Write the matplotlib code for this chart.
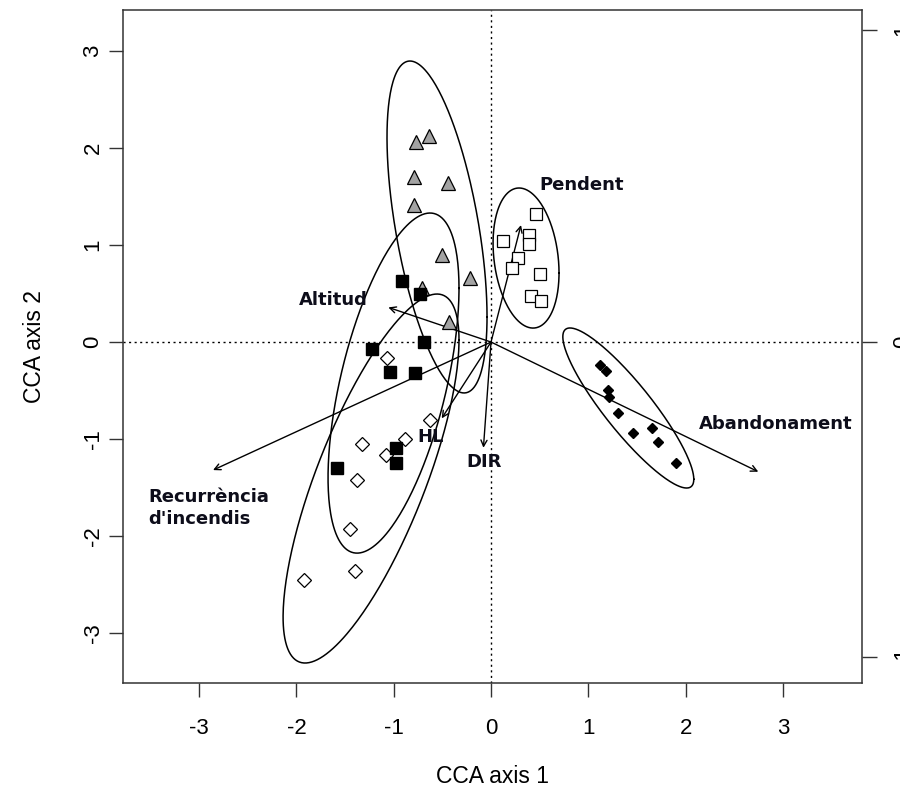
import numpy as np
import matplotlib
matplotlib.use("Agg")
import matplotlib.pyplot as plt

# --- site scores (CCA axis 1, CCA axis 2) per group ---
tri_x = [-0.774, -0.637, -0.791, -0.439, -0.791, -0.507, -0.216, -0.712, -0.432]
tri_y = [2.065, 2.124, 1.698, 1.636, 1.412, 0.897, 0.657, 0.554, 0.209]

bsq_x = [-0.918, -0.730, -0.689, -1.220, -1.038, -0.781, -0.979, -0.979, -1.586]
bsq_y = [0.629, 0.495, 0.000, -0.072, -0.306, -0.323, -1.096, -1.244, -1.302]

wdia_x = [-1.072, -0.627, -0.884, -1.326, -1.079, -1.380, -1.449, -1.398, -1.919]
wdia_y = [-0.168, -0.804, -1.003, -1.047, -1.165, -1.423, -1.928, -2.361, -2.454]

wsq_x = [0.459, 0.120, 0.394, 0.394, 0.274, 0.213, 0.504, 0.408, 0.514]
wsq_y = [1.316, 1.044, 1.103, 1.007, 0.863, 0.766, 0.701, 0.477, 0.426]

bdia_x = [1.120, 1.179, 1.199, 1.216, 1.302, 1.456, 1.658, 1.713, 1.898]
bdia_y = [-0.237, -0.296, -0.495, -0.570, -0.735, -0.935, -0.883, -1.028, -1.244]

# --- group ellipses: centre, half-width, half-height, x-offset of top point ---
ell_cx = [-0.555, -1.002, -1.233, 0.360, 1.411]
ell_cy = [1.186, -0.423, -1.407, 0.866, -0.680]
ell_w = [0.514, 0.673, 0.904, 0.339, 0.673]
ell_h = [1.711, 1.753, 1.902, 0.722, 0.825]
ell_dx = [-0.278, 0.375, 0.678, -0.072, -0.599]

# --- environmental vectors (biplot arrows) ---
env_names = ["Altitud", "Recurrència\nd'incendis", "Abandonament", "Pendent", "DIR", "HL"]
env_x = [-1.055, -2.857, 2.747, 0.308, -0.078, -0.507]
env_y = [0.357, -1.320, -1.337, 1.206, -1.090, -0.787]
lab_x = [-1.624, -3.525, 2.929, 0.935, -0.072, -0.617]
lab_y = [0.433, -1.711, -0.845, 1.619, -1.237, -0.979]
lab_ha = ["center", "left", "center", "center", "center", "center"]

x_ticks = [-3, -2, -1, 0, 1, 2, 3]
y_ticks = [-3, -2, -1, 0, 1, 2, 3]
right_ticks = [-3.25, 0.0, 3.22]
right_labels = ["-1", "0", "1"]

plt.rcParams["font.family"] = ["Liberation Sans", "DejaVu Sans"]

fig = plt.figure(figsize=(9.0, 7.93), dpi=100)
ax = fig.add_axes([0.1367, 0.1387, 0.9578 - 0.1367, 0.9874 - 0.1387])
ax.set_xlim(-3.782, 3.813)
ax.set_ylim(-3.515, 3.423)

# dotted origin lines
ax.axhline(0, color="black", lw=1.0, ls=(0, (1.5, 2.5)), zorder=1)
ax.axvline(0, color="black", lw=1.0, ls=(0, (1.5, 2.5)), zorder=1)

# ellipses
t = np.linspace(0, 2 * np.pi, 300)
for cx, cy, w, h, dx in zip(ell_cx, ell_cy, ell_w, ell_h, ell_dx):
    cov = np.array([[w * w, dx * h], [dx * h, h * h]])
    L = np.linalg.cholesky(cov)
    pts = L @ np.vstack([np.cos(t), np.sin(t)])
    ax.plot(cx + pts[0], cy + pts[1], color="black", lw=1.1, zorder=2)

# arrows
for ex, ey in zip(env_x, env_y):
    ax.annotate("", xy=(ex, ey), xytext=(0, 0),
                arrowprops=dict(arrowstyle="->", lw=1.0, color="black",
                                shrinkA=0, shrinkB=0, mutation_scale=11),
                zorder=3)

# points
ax.plot(tri_x, tri_y, "^", ms=10, mfc="#a3a3a3", mec="black", mew=0.9, ls="none", zorder=4)
ax.plot(bsq_x, bsq_y, "s", ms=8, mfc="black", mec="black", ls="none", zorder=5)
ax.plot(wdia_x, wdia_y, "D", ms=7, mfc="white", mec="black", mew=0.9, ls="none", zorder=4)
ax.plot(wsq_x, wsq_y, "s", ms=8, mfc="white", mec="black", mew=0.9, ls="none", zorder=4)
ax.plot(bdia_x, bdia_y, "D", ms=5.5, mfc="black", mec="black", ls="none", zorder=4)

# vector labels
for name, lx, ly, ha in zip(env_names, lab_x, lab_y, lab_ha):
    ax.text(lx, ly, name, ha=ha, va="center", fontsize=13, fontweight="bold",
            family="DejaVu Sans", linespacing=1.3, color="#0d0d1a", zorder=6)

# axes styling
for s in ax.spines.values():
    s.set_linewidth(1.1)
    s.set_color("#333333")
ax.set_xticks(x_ticks)
ax.set_xticklabels([str(v) for v in x_ticks], fontsize=16)
ax.set_yticks(y_ticks)
ax.set_yticklabels([str(v) for v in y_ticks], fontsize=16, rotation=90, va="center")
ax.tick_params(axis="both", direction="out", length=10, width=1.0, color="#333333")
ax.tick_params(axis="x", pad=15)
ax.tick_params(axis="y", pad=4)
ax.set_xlabel("CCA axis 1", fontsize=16.5, labelpad=19)
ax.set_ylabel("CCA axis 2", fontsize=16.5, labelpad=26)

# secondary axis on the right
ax2 = ax.twinx()
ax2.set_ylim(ax.get_ylim())
ax2.set_yticks(right_ticks)
ax2.set_yticklabels(right_labels, fontsize=16, rotation=90, va="center")
ax2.tick_params(axis="y", direction="out", length=11, width=1.0, color="#333333", pad=11)
for s in ax2.spines.values():
    s.set_visible(False)

fig.savefig("out.png", dpi=100)
